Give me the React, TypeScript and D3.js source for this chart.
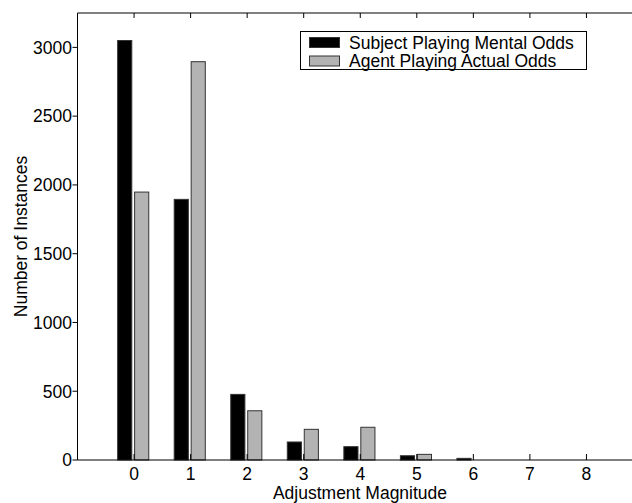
import React from "react";
import * as d3 from "d3";

const categories = [0, 1, 2, 3, 4, 5, 6, 7, 8];
const subjectMental = [3050, 1895, 477, 131, 97, 31, 12, 0, 0];
const agentActual = [1948, 2896, 358, 223, 238, 41, 0, 0, 0];
const yTicks = [0, 500, 1000, 1500, 2000, 2500, 3000];
const seriesNames = ["Subject Playing Mental Odds", "Agent Playing Actual Odds"];

const W = 632;
const H = 503;
const margin = { top: 13, bottom: 43, left: 77.5 };
const font = "'Liberation Sans', Arial, Helvetica, sans-serif";
const fs = 17.5;

const App = () => {
    const x = d3.scaleLinear().domain([-1, 9]).range([margin.left, 643]);
    const y = d3.scaleLinear().domain([0, 3250]).range([H - margin.bottom, margin.top]);
    const y0 = y(0);
    const barW = x(0.25) - x(0);

    const series = [
        { values: subjectMental, fill: "#000000", offset: -0.29 },
        { values: agentActual, fill: "#b3b3b3", offset: 0.01 },
    ];

    return (
        <svg width={W} height={H} style={{ position: "absolute", left: 0, top: 0, background: "#fff" }}
            fontFamily={font}>
            <rect width={W} height={H} fill="#fff" />

            {series.map((s, si) =>
                s.values.map((v, i) => v > 0 ? (
                    <rect key={`${si}-${i}`}
                        x={x(categories[i] + s.offset)}
                        y={y(v)}
                        width={barW}
                        height={y0 - y(v)}
                        fill={s.fill}
                        stroke="#333"
                        strokeWidth={1} />
                ) : null)
            )}

            {/* axes box */}
            <line x1={margin.left} x2={W} y1={y0} y2={y0} stroke="#000" />
            <line x1={margin.left} x2={W} y1={margin.top} y2={margin.top} stroke="#000" />
            <line x1={margin.left} x2={margin.left} y1={margin.top} y2={y0} stroke="#000" />

            {categories.map(c => (
                <g key={c}>
                    <line x1={x(c)} x2={x(c)} y1={y0} y2={y0 - 6} stroke="#000" />
                    <line x1={x(c)} x2={x(c)} y1={margin.top} y2={margin.top + 5} stroke="#000" />
                    <text x={x(c)} y={480} textAnchor="middle" fontSize={fs}>{c}</text>
                </g>
            ))}

            {yTicks.map(t => (
                <g key={t}>
                    <line x1={margin.left - 5} x2={margin.left} y1={y(t)} y2={y(t)} stroke="#000" />
                    <text x={72} y={y(t)} dy="0.36em" textAnchor="end" fontSize={fs}>{t}</text>
                </g>
            ))}

            <text x={360} y={499} textAnchor="middle" fontSize={fs}>Adjustment Magnitude</text>
            <text transform={`translate(27,${(margin.top + y0) / 2}) rotate(-90)`} textAnchor="middle" fontSize={fs}>
                Number of Instances
            </text>

            {/* legend */}
            <rect x={300.5} y={31.5} width={286} height={38} fill="#fff" stroke="#000" />
            {seriesNames.map((name, i) => (
                <g key={name} transform={`translate(0,${i * 18.5})`}>
                    <rect x={309.5} y={37.5} width={30} height={10} fill={series[i].fill} stroke="#333" />
                    <text x={349} y={48.5} fontSize={fs}>{name}</text>
                </g>
            ))}
        </svg>
    );
};

export default App;
